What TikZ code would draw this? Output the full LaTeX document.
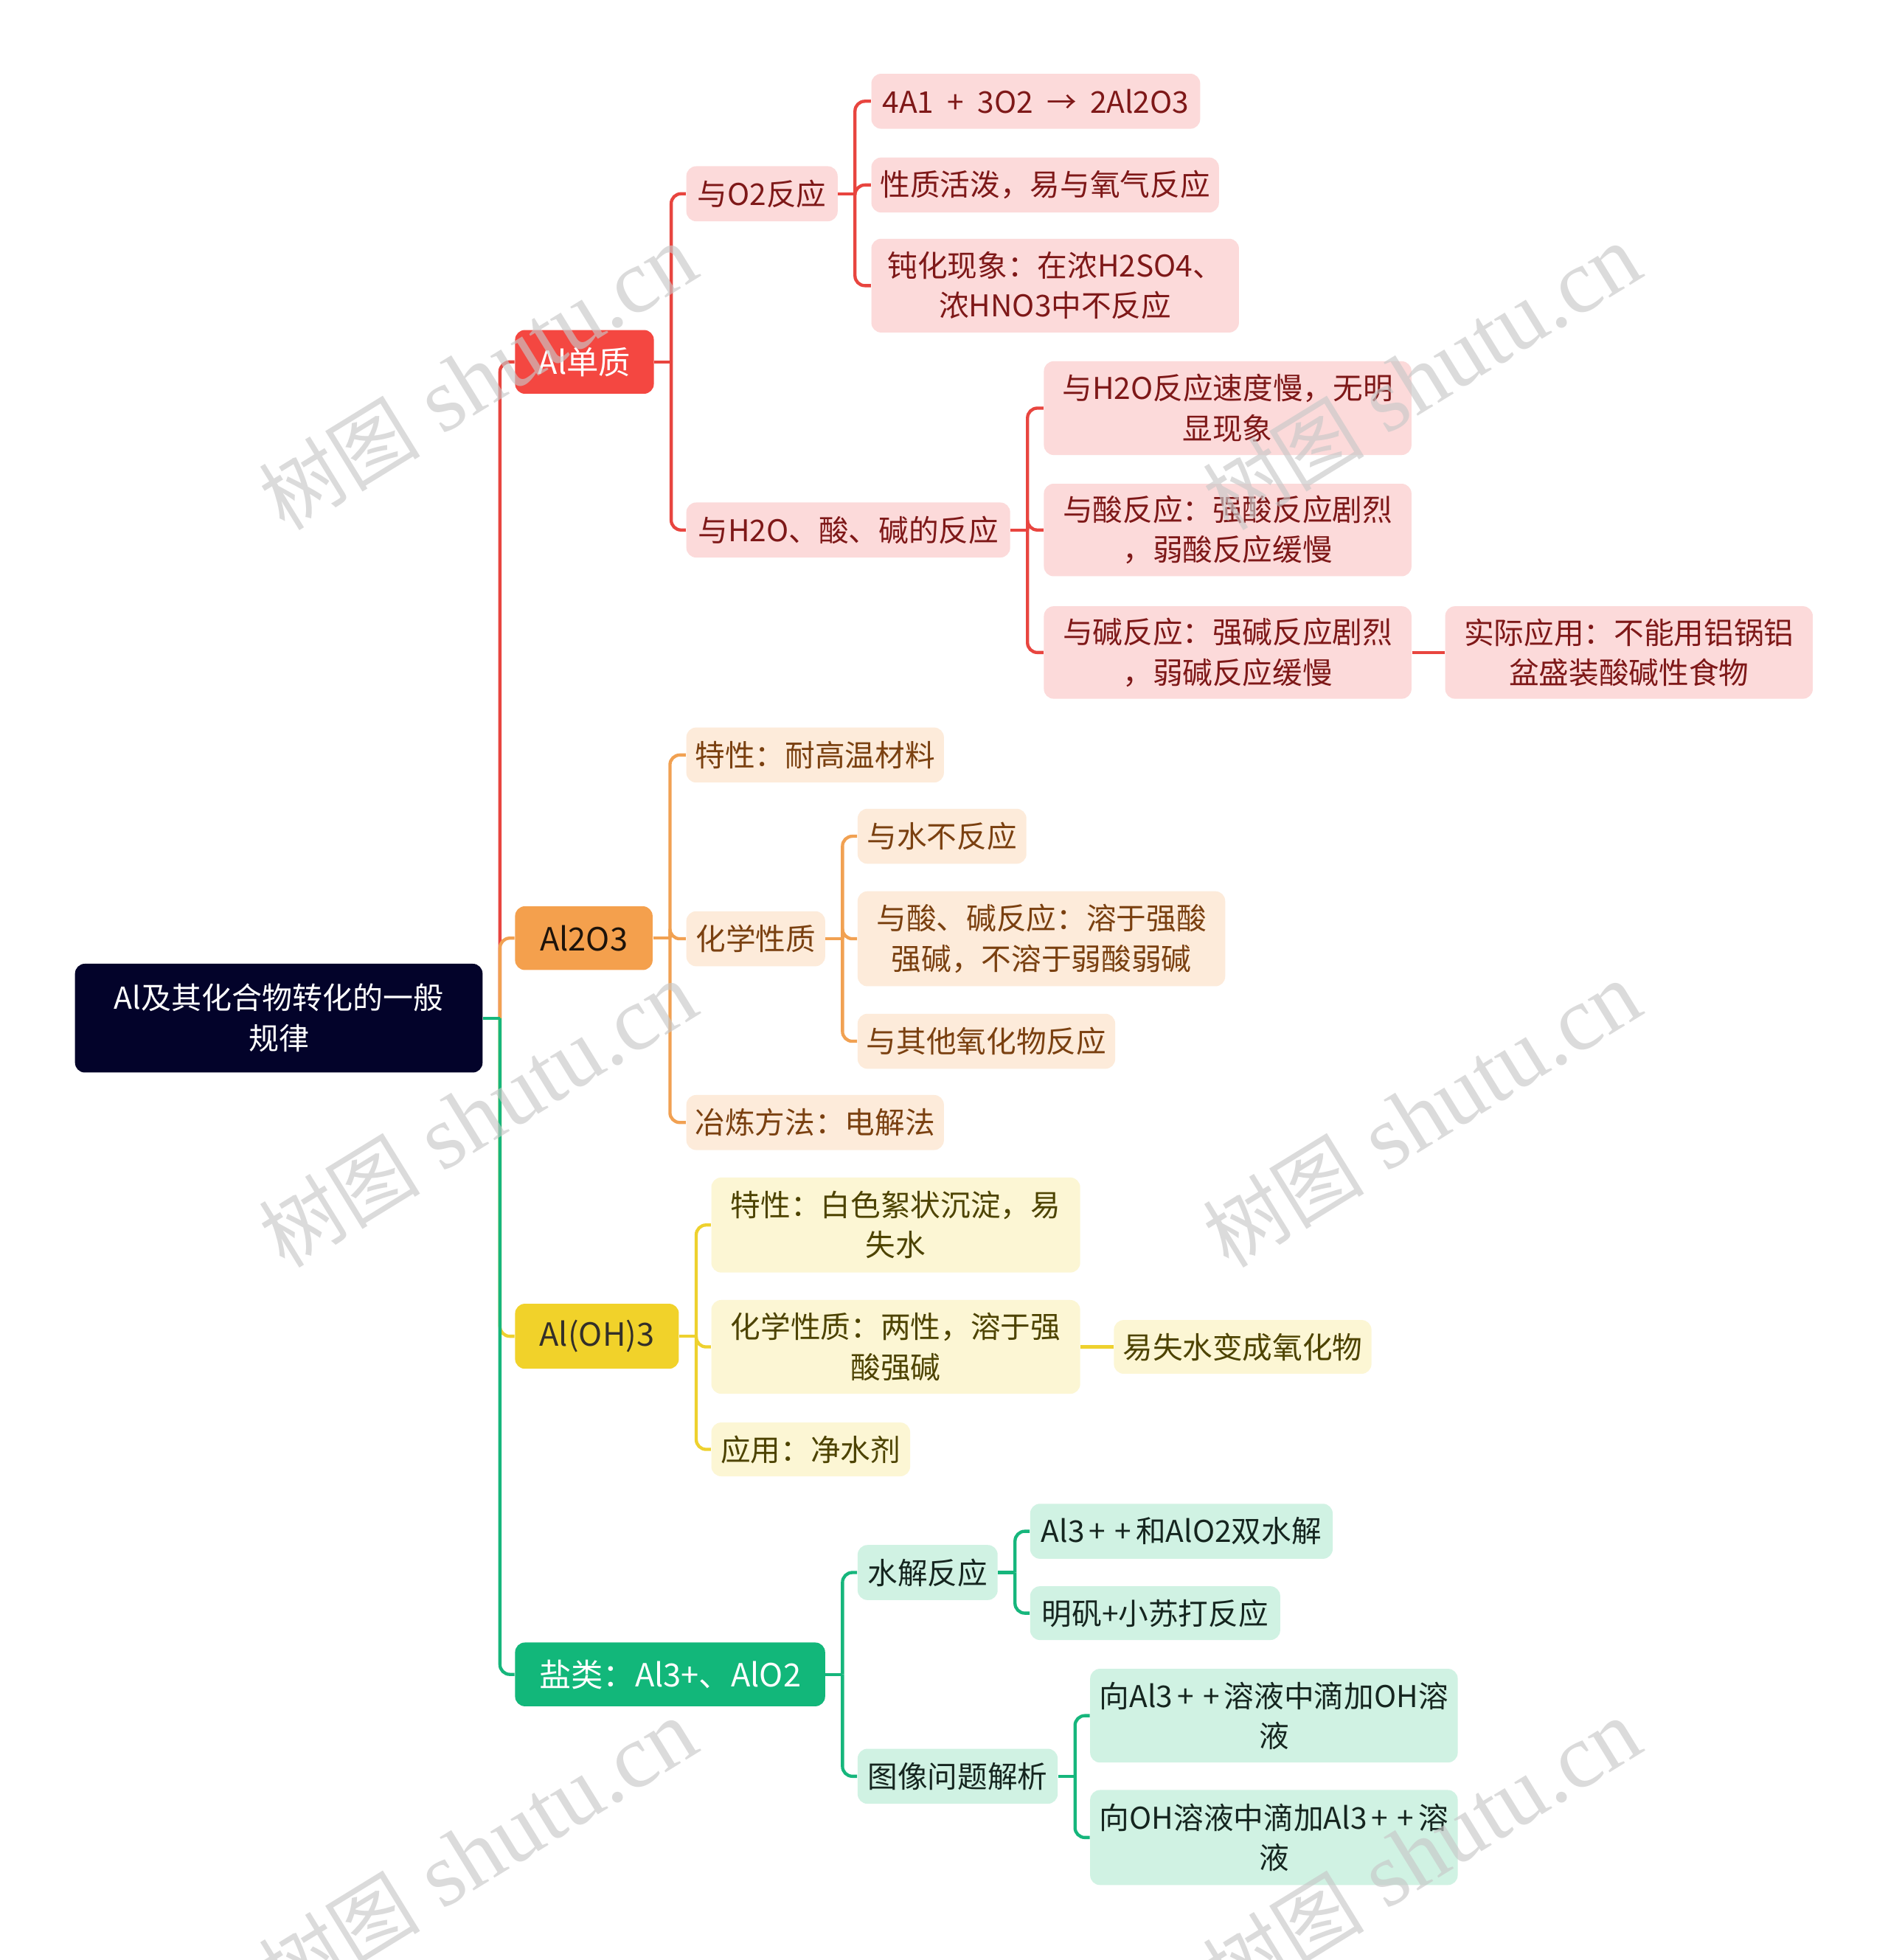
\documentclass[tikz,border=0pt]{standalone}
\usepackage{fontspec}
\newfontfamily\cjk{Noto Sans CJK SC}
\newfontfamily\wmser{Liberation Serif}
\definecolor{rootfill}{HTML}{03032A}
\definecolor{rline}{HTML}{E8453F}
\definecolor{rmain}{HTML}{F44741}
\definecolor{rlight}{HTML}{FCDADA}
\definecolor{rtext}{HTML}{7E1818}
\definecolor{oline}{HTML}{F1A152}
\definecolor{omain}{HTML}{F4A04D}
\definecolor{olight}{HTML}{FDEBDA}
\definecolor{otext}{HTML}{7A4010}
\definecolor{yline}{HTML}{EED12E}
\definecolor{ymain}{HTML}{F1D22A}
\definecolor{ylight}{HTML}{FCF6D4}
\definecolor{ytext}{HTML}{4D4300}
\definecolor{gline}{HTML}{16B67C}
\definecolor{gmain}{HTML}{12B77A}
\definecolor{glight}{HTML}{D0F2E3}
\definecolor{gtext}{HTML}{15251F}
\definecolor{wmgray}{HTML}{C8C8C8}
\newcommand\plusgap{\hspace{0.15em}+\hspace{0.15em}}
\newcommand\wsp{\hspace{0.45em}}
\tikzset{
  base/.style={rectangle, rounded corners=4pt, inner sep=0pt, align=center,
    font=\cjk\fontsize{12.2}{16.3}\selectfont},
  big/.style={base, font=\cjk\fontsize{13}{16.5}\selectfont},
  rootS/.style={big, font=\cjk\fontsize{12.3}{16.5}\selectfont, fill=rootfill, text=white},
  L1r/.style={big, fill=rmain, text=white},
  L1o/.style={big, fill=omain, text=black!85!brown},
  L1y/.style={big, fill=ymain, text=black!85!olive},
  L1g/.style={big, fill=gmain, text=white},
  rB/.style={base, fill=rlight, text=rtext},
  oB/.style={base, fill=olight, text=otext},
  yB/.style={base, fill=ylight, text=ytext},
  gB/.style={base, fill=glight, text=gtext},
  rl/.style={draw=rline, line width=1.3pt},
  ol/.style={draw=oline, line width=1.3pt},
  yl/.style={draw=yline, line width=1.3pt},
  gl/.style={draw=gline, line width=1.3pt},
  wm/.style={text=wmgray, opacity=0.65, rotate=31.6, inner sep=0pt}
}
\newcommand\bx[7]{\node[#1, minimum width={(#5-#3)*0.50862pt}, minimum height={(#6-#4)*0.50862pt}] (#2) at ({(#3+#5)/2},{(#4+#6)/2}) {#7};}
\newcommand\cn[3]{\draw[#1] (#2.east) -- ++(13.5,0) coordinate (j-#2-#3); \draw[#1, rounded corners=4pt] (j-#2-#3) |- (#3.west);}
\begin{document}
\begin{tikzpicture}[x=0.50862pt, y=-0.50862pt]
\useasboundingbox[fill=white] (0,0) rectangle (1510,1568);
% root
\bx{rootS}{root}{60}{771}{386}{858}{Al及其化合物转化的一般\\规律}
% level 1
\bx{L1r}{n1}{412}{264}{523}{315}{Al单质}
\bx{L1o}{n2}{412}{725}{522}{776}{Al2O3}
\bx{L1y}{n3}{412}{1043}{543}{1095}{Al(OH)3}
\bx{L1g}{n4}{412}{1314}{660}{1365}{盐类：Al3+、AlO2}
% red branch
\bx{rB}{n11}{549}{133}{670}{177}{与O2反应}
\bx{rB}{n12}{549}{402}{808}{446}{与H2O、酸、碱的反应}
\bx{rB}{n111}{697}{59}{960}{103}{4A1\wsp+\wsp3O2\wsp→\wsp2Al2O3}
\bx{rB}{n112}{697}{126}{975}{170}{性质活泼，易与氧气反应}
\bx{rB}{n113}{697}{191}{991}{266}{钝化现象：在浓H2SO4、\\浓HNO3中不反应}
\bx{rB}{n121}{835}{289}{1129}{364}{与H2O反应速度慢，无明\\显现象}
\bx{rB}{n122}{835}{387}{1129}{461}{与酸反应：强酸反应剧烈\\，弱酸反应缓慢}
\bx{rB}{n123}{835}{485}{1129}{559}{与碱反应：强碱反应剧烈\\，弱碱反应缓慢}
\bx{rB}{n1231}{1156}{485}{1450}{559}{实际应用：不能用铝锅铝\\盆盛装酸碱性食物}
% orange branch
\bx{oB}{n21}{549}{582}{755}{626}{特性：耐高温材料}
\bx{oB}{n22}{549}{729}{660}{773}{化学性质}
\bx{oB}{n23}{549}{876}{755}{920}{冶炼方法：电解法}
\bx{oB}{n221}{686}{647}{821}{691}{与水不反应}
\bx{oB}{n222}{686}{713}{980}{789}{与酸、碱反应：溶于强酸\\强碱，不溶于弱酸弱碱}
\bx{oB}{n223}{686}{811}{892}{855}{与其他氧化物反应}
% yellow branch
\bx{yB}{n31}{569}{942}{864}{1018}{特性：白色絮状沉淀，易\\失水}
\bx{yB}{n32}{569}{1040}{864}{1115}{化学性质：两性，溶于强\\酸强碱}
\bx{yB}{n33}{569}{1138}{728}{1181}{应用：净水剂}
\bx{yB}{n321}{891}{1056}{1097}{1099}{易失水变成氧化物}
% green branch
\bx{gB}{n41}{686}{1236}{798}{1280}{水解反应}
\bx{gB}{n42}{686}{1399}{846}{1443}{图像问题解析}
\bx{gB}{n411}{824}{1203}{1066}{1247}{Al3\plusgap\plusgap 和AlO2双水解}
\bx{gB}{n412}{824}{1269}{1024}{1312}{明矾+小苏打反应}
\bx{gB}{n421}{872}{1335}{1166}{1410}{向Al3\plusgap\plusgap 溶液中滴加OH溶\\液}
\bx{gB}{n422}{872}{1432}{1166}{1508}{向OH溶液中滴加Al3\plusgap\plusgap 溶\\液}
% connectors from root
\cn{rl}{root}{n1}
\cn{ol}{root}{n2}
\cn{yl}{root}{n3}
\cn{gl}{root}{n4}
% red
\cn{rl}{n1}{n11}
\cn{rl}{n1}{n12}
\cn{rl}{n11}{n111}
\cn{rl}{n11}{n112}
\cn{rl}{n11}{n113}
\cn{rl}{n12}{n121}
\cn{rl}{n12}{n122}
\cn{rl}{n12}{n123}
\draw[rl] (n123.east) -- (n1231.west);
% orange
\cn{ol}{n2}{n21}
\cn{ol}{n2}{n22}
\cn{ol}{n2}{n23}
\cn{ol}{n22}{n221}
\cn{ol}{n22}{n222}
\cn{ol}{n22}{n223}
% yellow
\cn{yl}{n3}{n31}
\cn{yl}{n3}{n32}
\cn{yl}{n3}{n33}
\draw[yl] (n32.east) -- (n321.west);
% green
\cn{gl}{n4}{n41}
\cn{gl}{n4}{n42}
\cn{gl}{n41}{n411}
\cn{gl}{n41}{n412}
\cn{gl}{n42}{n421}
\cn{gl}{n42}{n422}
% watermarks
\foreach \wx/\wy [count=\k] in {382/302, 1137/302, 382/892, 1137/892, 382/1482, 1137/1482}
  \node[wm] (wm\k) at (\wx,\wy) {\cjk\fontsize{33}{36}\selectfont 树图\wmser\fontsize{37}{40}\selectfont\ shutu.cn};
\end{tikzpicture}
\end{document}
